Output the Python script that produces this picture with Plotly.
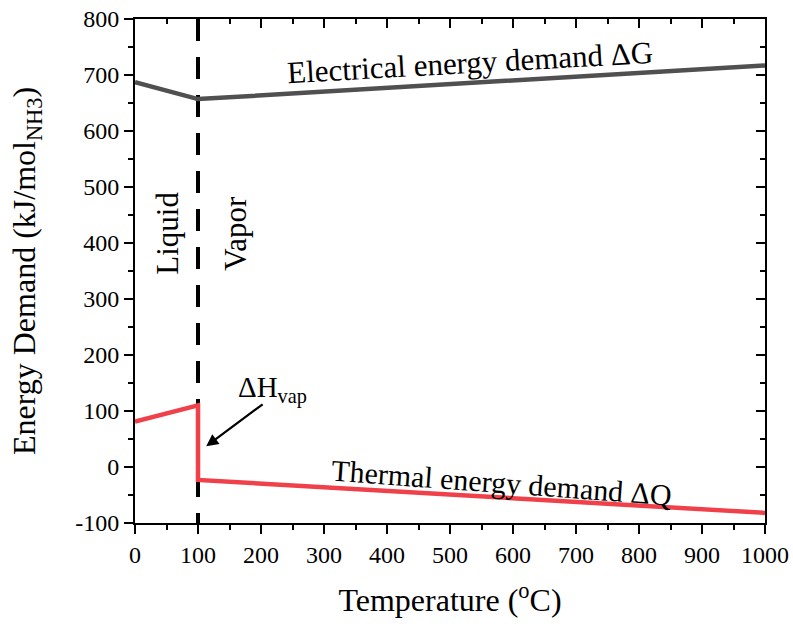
import plotly.graph_objects as go

# Temperature (°C) breakpoints and energy demands (kJ/mol NH3)
temp_g = [0, 100, 1000]
delta_g = [687, 657, 717]

temp_q = [0, 100, 100, 1000]
delta_q = [81, 110, -23, -82]

boil_x = [100, 100]
boil_y = [800, -100]

x_ticks = list(range(0, 1001, 100))
y_ticks = list(range(-100, 801, 100))
y_labels = [str(v) for v in y_ticks]  # plain hyphen minus

FONT = "Liberation Serif"

fig = go.Figure()
fig.add_trace(go.Scatter(x=boil_x, y=boil_y, mode="lines",
                         line=dict(color="black", width=4, dash="22px,16px"), showlegend=False))
fig.add_trace(go.Scatter(x=temp_g, y=delta_g, mode="lines",
                         line=dict(color="#505050", width=4.5), showlegend=False))
fig.add_trace(go.Scatter(x=temp_q, y=delta_q, mode="lines",
                         line=dict(color="#f0404a", width=4.5), showlegend=False))
# invisible trace carrying the mirrored top/right axes
fig.add_trace(go.Scatter(x=[0], y=[0], xaxis="x2", yaxis="y2", mode="markers",
                         marker=dict(opacity=0), showlegend=False, hoverinfo="skip"))

tickfont = dict(family=FONT, size=24, color="black")
axis_common = dict(showgrid=False, zeroline=False, showline=True, linecolor="black",
                   linewidth=2, tickcolor="black", tickwidth=2, ticklen=9)


def minor(direction):
    return dict(dtick=50, ticks=direction, ticklen=5, tickcolor="black", tickwidth=2)


fig.update_layout(
    width=793, height=626,
    margin=dict(l=135, r=28, t=19, b=103),
    plot_bgcolor="white", paper_bgcolor="white",
    font=dict(family=FONT, color="black", size=24),
    xaxis=dict(range=[0, 1000], tickmode="array", tickvals=x_ticks, ticks="outside",
               minor=minor("outside"), tickfont=tickfont, automargin=False,
               title=dict(text="Temperature (<sup>o</sup>C)",
                          font=dict(family=FONT, size=32, color="black"), standoff=22),
               **axis_common),
    yaxis=dict(range=[-100, 800], tickmode="array", tickvals=y_ticks, ticktext=y_labels,
               ticks="outside", minor=minor("outside"), tickfont=tickfont, automargin=False,
               title=dict(text="Energy Demand (kJ/mol<sub>NH3</sub>)",
                          font=dict(family=FONT, size=32, color="black"), standoff=30),
               **axis_common),
    xaxis2=dict(range=[0, 1000], dtick=100, ticks="inside", side="top", overlaying="x",
                anchor="y", showticklabels=False, minor=minor("inside"), automargin=False,
                **axis_common),
    yaxis2=dict(range=[-100, 800], dtick=100, ticks="inside", side="right", overlaying="y",
                anchor="x", showticklabels=False, minor=minor("inside"), automargin=False,
                **axis_common),
)

txt = dict(family=FONT, size=31, color="black")
fig.add_annotation(x=532, y=722, text="Electrical energy demand ΔG", showarrow=False,
                   textangle=-3.2, font=txt)
fig.add_annotation(x=581, y=-28, text="Thermal energy demand ΔQ", showarrow=False,
                   textangle=4.2, font=dict(family=FONT, size=30, color="black"))
fig.add_annotation(x=52, y=418, text="Liquid", showarrow=False, textangle=-90, font=txt)
fig.add_annotation(x=160, y=418, text="Vapor", showarrow=False, textangle=-90, font=txt)
fig.add_annotation(x=113, y=37, ax=205, ay=114, axref="x", ayref="y",
                   text="", showarrow=True, arrowhead=2, arrowsize=1.1, arrowwidth=2.2,
                   arrowcolor="black")
fig.add_annotation(x=219, y=138, text="ΔH<sub>vap</sub>", showarrow=False,
                   font=dict(family=FONT, size=29, color="black"), xanchor="center")

fig.write_html("out.html")
